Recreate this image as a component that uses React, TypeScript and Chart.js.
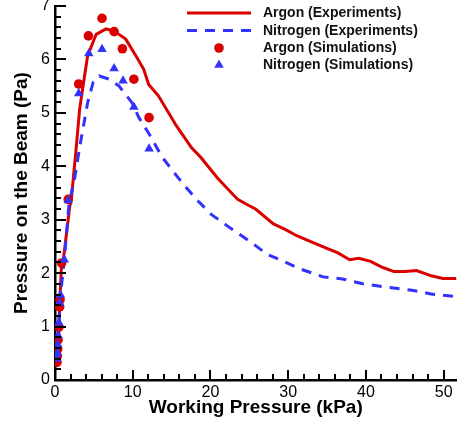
import React, { useEffect, useRef } from "react";
import { Chart, registerables } from "chart.js";

Chart.register(...registerables);

const FONT = "'Liberation Sans', Arial, Helvetica, sans-serif";
const RED = "rgb(218,0,0)";
const BLUE = "rgb(50,50,255)";

const seriesLabels = [
  "Argon (Experiments)",
  "Nitrogen (Experiments)",
  "Argon (Simulations)",
  "Nitrogen (Simulations)",
];

const argonExpX = [0.25, 0.4, 0.5, 0.6, 0.85, 1.05, 1.9, 2.1, 2.75, 3.17, 3.8, 4.2, 5.3, 6.56, 7.6, 9.1, 10.4, 11.4, 12.05, 13.3, 15.65, 17.55, 18.8, 20.9, 23.5, 24.75, 25.8, 28.1, 29.6, 31.1, 32.6, 34.9, 36.4, 37.9, 39.1, 40.6, 42.1, 43.6, 45.05, 46.5, 48.4, 49.9, 51.65];
const argonExpY = [0.33, 0.7, 1.0, 1.4, 2.19, 2.22, 3.25, 3.38, 4.38, 5.07, 5.69, 6.07, 6.47, 6.57, 6.53, 6.38, 6.07, 5.82, 5.53, 5.32, 4.75, 4.35, 4.16, 3.78, 3.38, 3.28, 3.2, 2.92, 2.82, 2.7, 2.61, 2.47, 2.38, 2.25, 2.28, 2.22, 2.11, 2.03, 2.03, 2.05, 1.95, 1.9, 1.9];

const nitrogenExpX = [0.25, 0.35, 0.5, 0.7, 1.2, 1.8, 2.5, 3.2, 4.2, 4.9, 5.7, 7.0, 8.25, 9.9, 10.8, 12.3, 13.7, 15.0, 16.7, 18.4, 20.1, 22.2, 25.4, 27.3, 29.0, 31.5, 34.5, 37.0, 39.6, 42.5, 45.9, 48.4, 51.65];
const nitrogenExpY = [0.4, 0.66, 1.07, 1.59, 2.25, 3.3, 3.75, 4.38, 5.19, 5.57, 5.69, 5.63, 5.5, 5.19, 4.91, 4.56, 4.19, 3.94, 3.63, 3.35, 3.1, 2.88, 2.56, 2.35, 2.25, 2.08, 1.93, 1.89, 1.8, 1.74, 1.68, 1.61, 1.56];

const argonSimX = [0.25, 0.3, 0.35, 0.4, 0.5, 0.6, 0.65, 0.85, 1.7, 3.05, 4.3, 6.05, 7.6, 8.67, 10.15, 12.1];
const argonSimY = [0.33, 0.45, 0.58, 0.75, 0.99, 1.37, 1.5, 2.19, 3.38, 5.54, 6.44, 6.77, 6.52, 6.2, 5.63, 4.91];

const nitrogenSimX = [0.25, 0.3, 0.35, 0.4, 0.5, 0.6, 0.7, 1.2, 1.7, 3.05, 4.35, 6.05, 7.6, 8.76, 10.15, 12.1];
const nitrogenSimY = [0.4, 0.5, 0.66, 0.83, 1.07, 1.44, 1.59, 2.25, 3.36, 5.36, 6.11, 6.19, 5.83, 5.6, 5.11, 4.33];

const xTitle = "Working Pressure (kPa)";
const yTitle = "Pressure on the Beam (Pa)";
const xMin = 0, xMax = 51.65, xMajor = 10, xMinor = 2;
const yMin = 0, yMax = 7, yMajor = 1, yMinor = 0.2;

const toPts = (xs: number[], ys: number[]) => xs.map((x, i) => ({ x, y: ys[i] }));

function drawTicks(chart: any) {
  const ctx = chart.ctx;
  const area = chart.chartArea;
  const xs = chart.scales.x;
  const ys = chart.scales.y;
  const b = Math.round(area.bottom);
  const l = Math.round(area.left);
  ctx.save();
  ctx.fillStyle = "#000000";
  const n1 = Math.round((xMax - xMin) / xMinor);
  for (let i = 0; i <= n1; i++) {
    const v = xMin + i * xMinor;
    if (v > xMax) break;
    const q = v / xMajor;
    const major = Math.abs(q - Math.round(q)) < 1e-6;
    const px = Math.round(xs.getPixelForValue(v));
    const h = major ? 10 : 6;
    ctx.fillRect(px - 1, b - h, 2, h);
  }
  const n2 = Math.round((yMax - yMin) / yMinor);
  for (let i = 0; i <= n2; i++) {
    const v = yMin + i * yMinor;
    const q = v / yMajor;
    const major = Math.abs(q - Math.round(q)) < 1e-6;
    const py = Math.round(ys.getPixelForValue(v));
    const w = major ? 11 : 6;
    ctx.fillRect(l, py - 1, w, 2);
  }
  ctx.restore();
}

function drawLegend(chart: any) {
  const ctx = chart.ctx;
  const lineX0 = 187, lineX1 = 251, markX = 219, textX = 263;
  const rowY = [13, 30.5, 48, 65];
  ctx.save();
  ctx.font = `bold 14px ${FONT}`;
  ctx.textBaseline = "middle";
  ctx.textAlign = "left";
  seriesLabels.forEach((label, i) => {
    const y = rowY[i];
    if (i === 0 || i === 1) {
      ctx.strokeStyle = i === 0 ? RED : BLUE;
      ctx.lineWidth = 3;
      ctx.setLineDash(i === 1 ? [10, 8] : []);
      ctx.beginPath();
      ctx.moveTo(lineX0, y);
      ctx.lineTo(lineX1, y);
      ctx.stroke();
      ctx.setLineDash([]);
    } else if (i === 2) {
      ctx.fillStyle = RED;
      ctx.beginPath();
      ctx.arc(markX, y, 4.8, 0, Math.PI * 2);
      ctx.fill();
    } else {
      ctx.fillStyle = BLUE;
      const r = 5.5;
      ctx.beginPath();
      ctx.moveTo(markX, y - r);
      ctx.lineTo(markX + r * Math.sin((2 * Math.PI) / 3), y - r * Math.cos((2 * Math.PI) / 3));
      ctx.lineTo(markX + r * Math.sin((4 * Math.PI) / 3), y - r * Math.cos((4 * Math.PI) / 3));
      ctx.closePath();
      ctx.fill();
    }
    ctx.fillStyle = "#111";
    ctx.fillText(label, textX, y + 0.5);
  });
  ctx.restore();
}

const decorPlugin = {
  id: "decorPlugin",
  afterDraw(chart: any) {
    drawLegend(chart);
    drawTicks(chart);
  },
};

export default function App() {
  const ref = useRef<HTMLCanvasElement | null>(null);
  useEffect(() => {
    if (!ref.current) return;
    const chart = new Chart(ref.current, {
      type: "scatter",
      data: {
        datasets: [
          {
            label: seriesLabels[3],
            data: toPts(nitrogenSimX, nitrogenSimY),
            showLine: false,
            pointStyle: "triangle",
            pointRadius: 5.5,
            pointBackgroundColor: BLUE,
            pointBorderColor: BLUE,
            pointBorderWidth: 0,
            order: 0,
          },
          {
            label: seriesLabels[2],
            data: toPts(argonSimX, argonSimY),
            showLine: false,
            pointStyle: "circle",
            pointRadius: 4.8,
            pointBackgroundColor: RED,
            pointBorderColor: RED,
            pointBorderWidth: 0,
            order: 1,
          },
          {
            label: seriesLabels[1],
            data: toPts(nitrogenExpX, nitrogenExpY),
            showLine: true,
            borderColor: BLUE,
            borderWidth: 3,
            borderDash: [10, 8],
            pointRadius: 0,
            tension: 0,
            order: 2,
          },
          {
            label: seriesLabels[0],
            data: toPts(argonExpX, argonExpY),
            showLine: true,
            borderColor: RED,
            borderWidth: 3,
            pointRadius: 0,
            tension: 0,
            order: 3,
          },
        ],
      },
      options: {
        responsive: false,
        animation: false,
        devicePixelRatio: 1,
        layout: { padding: { top: 6, right: 0, left: 0, bottom: 0 } },
        plugins: { legend: { display: false }, tooltip: { enabled: false } },
        scales: {
          x: {
            type: "linear",
            min: xMin,
            max: xMax,
            afterFit: (s: any) => {
              s.height = 45;
              s.paddingLeft = 0;
              s.paddingRight = 0;
            },
            ticks: {
              stepSize: xMajor,
              includeBounds: false,
              padding: 3,
              color: "#000",
              font: { family: FONT, size: 16 },
              maxRotation: 0,
            },
            grid: { display: false, drawTicks: false },
            border: { display: true, color: "#000", width: 2.5 },
            title: {
              display: true,
              text: xTitle,
              color: "#000",
              font: { family: FONT, size: 19, weight: "bold" },
              padding: { top: 0, bottom: 6 },
            },
          },
          y: {
            type: "linear",
            min: yMin,
            max: yMax,
            afterFit: (s: any) => {
              s.width = 55;
              s.paddingTop = 0;
              s.paddingBottom = 0;
            },
            ticks: {
              stepSize: yMajor,
              padding: 5,
              color: "#000",
              font: { family: FONT, size: 16 },
            },
            grid: { display: false, drawTicks: false },
            border: { display: true, color: "#000", width: 2.5 },
            title: {
              display: true,
              text: yTitle,
              color: "#000",
              font: { family: FONT, size: 19, weight: "bold" },
              padding: { top: 10, bottom: 0 },
            },
          },
        },
      },
      plugins: [decorPlugin],
    } as any);
    return () => chart.destroy();
  }, []);
  return (
    <div style={{ position: "absolute", left: 0, top: 0, width: 462, height: 425, background: "#fff" }}>
      <canvas ref={ref} width={462} height={425} />
    </div>
  );
}
